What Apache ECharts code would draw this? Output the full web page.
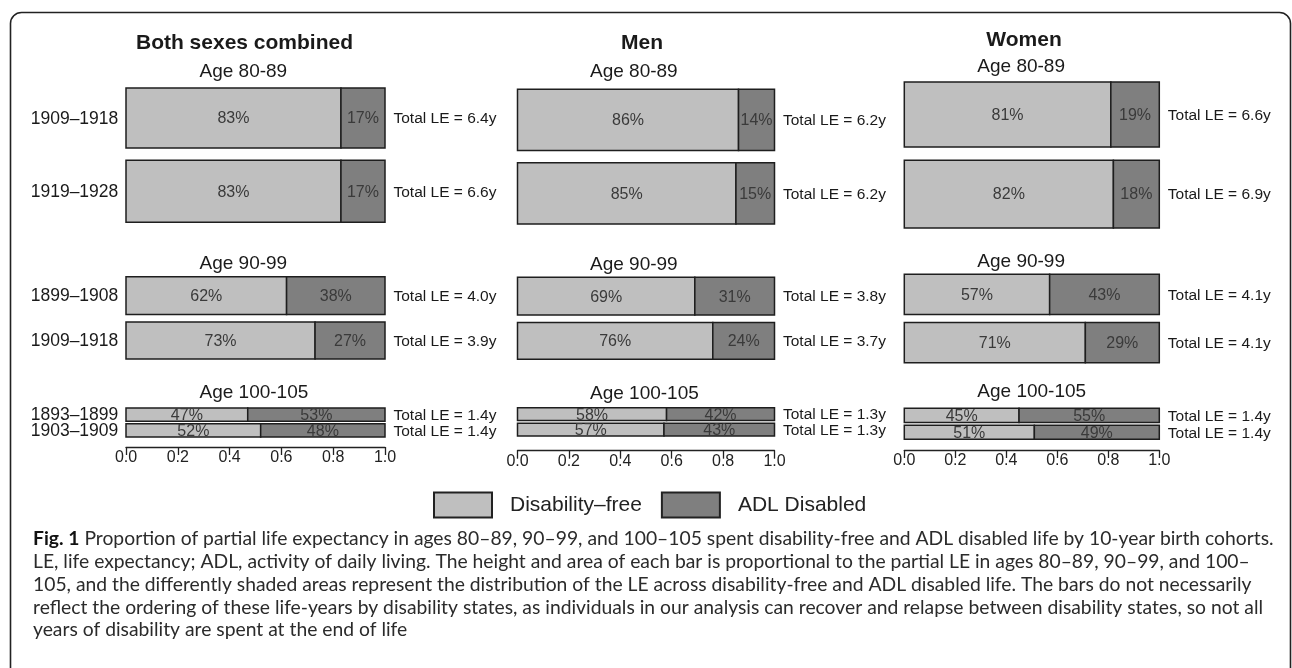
<!DOCTYPE html>
<html>
<head>
<meta charset="utf-8">
<script src="https://cdn.jsdelivr.net/npm/echarts@6/dist/echarts.min.js"></script>
<style>
html,body{margin:0;padding:0;background:#fff;}
#chart{width:1292px;height:668px;}
</style>
</head>
<body>
<div id="chart"></div>
<script>
// ---------- data ----------
const panelTitles = ['Both sexes combined', 'Men', 'Women'];
const ageGroups = ['Age 80-89', 'Age 90-99', 'Age 100-105'];
const cohorts = ['1909–1918', '1919–1928', '1899–1908', '1909–1918', '1893–1899', '1903–1909'];
const bothFree = [83, 83, 62, 73, 47, 52];
const bothDisabled = [17, 17, 38, 27, 53, 48];
const bothLE = [6.4, 6.6, 4.0, 3.9, 1.4, 1.4];
const menFree = [86, 85, 69, 76, 58, 57];
const menDisabled = [14, 15, 31, 24, 42, 43];
const menLE = [6.2, 6.2, 3.8, 3.7, 1.3, 1.3];
const womenFree = [81, 82, 57, 71, 45, 51];
const womenDisabled = [19, 18, 43, 29, 55, 49];
const womenLE = [6.6, 6.9, 4.1, 4.1, 1.4, 1.4];
const xTicks = [0, 0.2, 0.4, 0.6, 0.8, 1.0];
const legendNames = ['Disability–free', 'ADL Disabled'];
const captionLines = [
  'Proportion of partial life expectancy in ages 80–89, 90–99, and 100–105 spent disability-free and ADL disabled life by 10-year birth cohorts.',
  'LE, life expectancy; ADL, activity of daily living. The height and area of each bar is proportional to the partial LE in ages 80–89, 90–99, and 100–',
  '105, and the differently shaded areas represent the distribution of the LE across disability-free and ADL disabled life. The bars do not necessarily',
  'reflect the ordering of these life-years by disability states, as individuals in our analysis can recover and relapse between disability states, so not all',
  'years of disability are spent at the end of life'
];
const captionLead = 'Fig. 1';

// ---------- layout & style ----------
const FONT = '"Liberation Sans", Arial, Helvetica, sans-serif';
const CAP_FONT = 'Lato, "Open Sans", sans-serif';
const LIGHT = '#bfbfbf';
const DARK = '#7f7f7f';
const EDGE = '#1e1e1e';
const TXT = '#1a1a1a';
const PCT = '#3a3a3a';

const panelFree = [bothFree, menFree, womenFree];
const panelDis = [bothDisabled, menDisabled, womenDisabled];
const panelLE = [bothLE, menLE, womenLE];

const PANEL_X = [[126, 385], [517.5, 774.5], [904.3, 1159.3]];
const GROUP_Y = [
  [[88, 222.3], [276.7, 359], [408, 437]],
  [[89.3, 224], [277.3, 359.3], [407.7, 436]],
  [[82, 228], [274.3, 362.7], [408.3, 439.3]]
];
const AXIS_Y = [447, 450.7, 450];
const TITLE_Y = [43, 43.3, 40.5];
const TITLE_X = [244.5, 642, 1024];
const AGE_X = [199.5, 590, 977.3];
const AGE_Y = [[72, 264, 393], [71.7, 265, 394], [66.7, 261.7, 391.7]];

const grids = [], xAxes = [], yAxes = [], series = [];

for (let p = 0; p < 3; p++) {
  for (let g = 0; g < 3; g++) {
    const idx = p * 3 + g;
    const le = panelLE[p], fr = panelFree[p], di = panelDis[p];
    const a = le[2 * g], b = le[2 * g + 1];
    const gap = 0.2 * (a + b) / 2;
    const total = a + gap + b;
    const [x0, x1] = PANEL_X[p];
    const [y0, y1] = GROUP_Y[p][g];
    grids.push({ left: x0, top: y0, width: x1 - x0, height: y1 - y0, containLabel: false });
    const showAxis = g === 2;
    xAxes.push({
      gridIndex: idx, type: 'value', min: xTicks[0], max: xTicks[xTicks.length - 1],
      interval: xTicks[1] - xTicks[0], show: showAxis, position: 'bottom',
      offset: showAxis ? AXIS_Y[p] - y1 : 0,
      axisLine: { show: true, onZero: false, lineStyle: { color: '#222', width: 1.3 } },
      axisTick: { show: true, length: 8, lineStyle: { color: '#222', width: 1.3 } },
      axisLabel: { margin: 3, fontSize: 16, fontFamily: FONT, color: '#222', formatter: v => v.toFixed(1) },
      splitLine: { show: false }
    });
    yAxes.push({ gridIndex: idx, type: 'value', inverse: true, min: 0, max: total, show: false });
    const rows = [
      [0, a, fr[2 * g], di[2 * g], a, 2 * g],
      [a + gap, a + gap + b, fr[2 * g + 1], di[2 * g + 1], b, 2 * g + 1]
    ];
    const panel = p;
    series.push({
      type: 'custom', name: legendNames[0], xAxisIndex: idx, yAxisIndex: idx,
      itemStyle: { color: LIGHT }, data: rows, silent: true,
      renderItem: function (params, api) {
        const ys = api.value(0), ye = api.value(1), f = api.value(2), ci = api.value(5);
        const tl = api.coord([0, ys]);
        const br = api.coord([f / 100, ye]);
        const children = [
          { type: 'rect', shape: { x: tl[0], y: tl[1], width: br[0] - tl[0], height: br[1] - tl[1] },
            style: { fill: LIGHT, stroke: EDGE, lineWidth: 1.5 } },
          { type: 'text', x: (tl[0] + br[0]) / 2, y: (tl[1] + br[1]) / 2 + 1,
            style: { text: f + '%', fontSize: 16, fontFamily: FONT, fill: PCT, align: 'center', verticalAlign: 'middle' } }
        ];
        if (panel === 0) {
          children.push({ type: 'text', x: tl[0] - 7.7, y: (tl[1] + br[1]) / 2 + 1,
            style: { text: cohorts[ci], fontSize: 17.5, fontFamily: FONT, fill: TXT, align: 'right', verticalAlign: 'middle' } });
        }
        return { type: 'group', children: children };
      }
    });
    series.push({
      type: 'custom', name: legendNames[1], xAxisIndex: idx, yAxisIndex: idx,
      itemStyle: { color: DARK }, data: rows, silent: true,
      renderItem: function (params, api) {
        const ys = api.value(0), ye = api.value(1), f = api.value(2), d = api.value(3), l = api.value(4);
        const tl = api.coord([f / 100, ys]);
        const br = api.coord([1, ye]);
        return { type: 'group', children: [
          { type: 'rect', shape: { x: tl[0], y: tl[1], width: br[0] - tl[0], height: br[1] - tl[1] },
            style: { fill: DARK, stroke: EDGE, lineWidth: 1.5 } },
          { type: 'text', x: (tl[0] + br[0]) / 2, y: (tl[1] + br[1]) / 2 + 1,
            style: { text: d + '%', fontSize: 16, fontFamily: FONT, fill: PCT, align: 'center', verticalAlign: 'middle' } },
          { type: 'text', x: br[0] + 8.5, y: (tl[1] + br[1]) / 2 + 1,
            style: { text: 'Total LE = ' + l.toFixed(1) + 'y', fontSize: 15.5, fontFamily: FONT, fill: TXT, align: 'left', verticalAlign: 'middle' } }
        ] };
      }
    });
  }
}

// ---------- caption sizing (fit first line width) ----------
const CAP_LEFT = 33, CAP_RIGHT = 1274;
const ctx = document.createElement('canvas').getContext('2d');
ctx.font = 'bold 17px ' + CAP_FONT;
const wLead = ctx.measureText(captionLead + ' ').width;
ctx.font = '17px ' + CAP_FONT;
const wRest = ctx.measureText(captionLines[0]).width;
const capSize = Math.max(15, Math.min(21, 17 * (CAP_RIGHT - CAP_LEFT) / (wLead + wRest)));
const CAP_Y = [539, 562, 585, 607.5, 630];

const graphics = [
  { type: 'rect', z: -10, shape: { x: 10.5, y: 12.5, width: 1280, height: 720, r: 11 },
    style: { fill: 'none', stroke: '#222', lineWidth: 1.6 } }
];
for (let p = 0; p < 3; p++) {
  graphics.push({ type: 'text', x: TITLE_X[p], y: TITLE_Y[p],
    style: { text: panelTitles[p], fontSize: 21, fontWeight: 'bold', fontFamily: FONT, fill: TXT,
             align: 'center', verticalAlign: 'middle', textAlign: 'center', textVerticalAlign: 'middle' } });
  for (let g = 0; g < 3; g++) {
    graphics.push({ type: 'text', x: AGE_X[p], y: AGE_Y[p][g],
      style: { text: ageGroups[g], fontSize: 19, fontFamily: FONT, fill: TXT,
               align: 'left', verticalAlign: 'middle', textAlign: 'left', textVerticalAlign: 'middle' } });
  }
}
captionLines.forEach((line, i) => {
  const txt = i === 0 ? '{b|' + captionLead + '} ' + line : line;
  graphics.push({ type: 'text', x: CAP_LEFT, y: CAP_Y[i],
    style: { text: txt, fontSize: capSize, fontFamily: CAP_FONT, fill: '#2b2b2b',
             align: 'left', verticalAlign: 'middle', textAlign: 'left', textVerticalAlign: 'middle',
             rich: { b: { fontWeight: 'bold', fontSize: capSize, fontFamily: CAP_FONT, fill: '#111' } } } });
});

const chart = echarts.init(document.getElementById('chart'), null, { renderer: 'canvas' });
chart.setOption({
  backgroundColor: '#ffffff',
  animation: false,
  grid: grids,
  xAxis: xAxes,
  yAxis: yAxes,
  legend: {
    data: legendNames, left: 433, top: 491.5, padding: 0, icon: 'rect', itemWidth: 58, itemHeight: 25, itemGap: 19,
    selectedMode: false,
    itemStyle: { borderColor: '#222', borderWidth: 2 },
    textStyle: { fontSize: 21, fontFamily: FONT, color: '#222', padding: [0, 0, 0, 13] }
  },
  graphic: { elements: graphics },
  series: series
});
</script>
</body>
</html>
